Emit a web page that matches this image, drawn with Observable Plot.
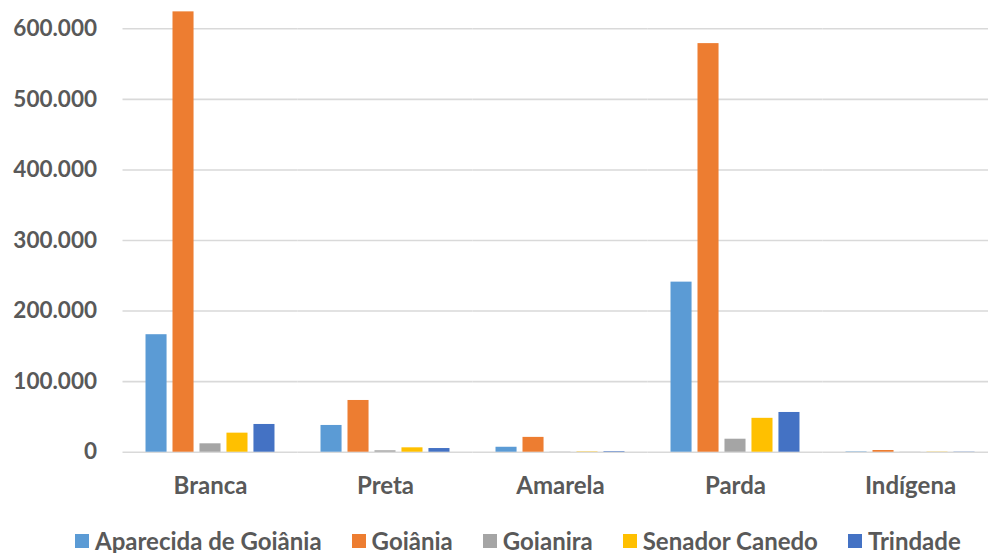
<!DOCTYPE html>
<html>
<head>
<meta charset="utf-8">
<script src="https://cdn.jsdelivr.net/npm/d3@7"></script>
<script src="https://cdn.jsdelivr.net/npm/@observablehq/plot@0.6"></script>
<style>
  html, body { margin: 0; padding: 0; background: #fff; overflow: hidden; }
  #chart { width: 988px; }
  .legend { display: flex; justify-content: flex-start; align-items: center; height: 33px; box-sizing: border-box; padding-top: 8px;
    font-family: Lato, "Open Sans", sans-serif; font-weight: 700; font-size: 24px; line-height: 24px; color: #595959; padding-left: 75px; white-space: nowrap; }
  .legend .item { display: flex; align-items: center; margin-right: 30px; }
  .legend .sw { width: 14px; height: 14px; margin-right: 6px; flex: none; }
</style>
</head>
<body>
<div id="chart"></div>
<script>
const categories = ["Branca", "Preta", "Amarela", "Parda", "Indígena"];
const seriesNames = ["Aparecida de Goiânia", "Goiânia", "Goianira", "Senador Canedo", "Trindade"];
const seriesColors = ["#5B9BD5", "#ED7D31", "#A5A5A5", "#FFC000", "#4472C4"];
// values per series, in the order of categories
const aparecida = [166500, 37900, 7000, 241000, 500];
const goiania = [624000, 73300, 21000, 579000, 2400];
const goianira = [11900, 2000, 300, 18400, 200];
const senadorCanedo = [27000, 6200, 500, 48000, 300];
const trindade = [39300, 5200, 800, 56300, 300];
const yTicks = [0, 100000, 200000, 300000, 400000, 500000, 600000];

const seriesValues = [aparecida, goiania, goianira, senadorCanedo, trindade];
const data = [];
categories.forEach((c, i) => {
  seriesNames.forEach((s, j) => data.push({category: c, series: s, value: seriesValues[j][i]}));
});

const fmt = d3.formatLocale({decimal: ",", thousands: ".", grouping: [3], currency: ["R$", ""]}).format(",d");

const chart = Plot.plot({
  width: 988,
  height: 520,
  marginLeft: 122,
  marginRight: 0,
  marginTop: 0,
  marginBottom: 68,
  style: {fontFamily: "Lato, 'Open Sans', sans-serif", fontWeight: 700, color: "#595959", background: "#fff"},
  fx: {domain: categories, range: [122.5, 997.5], paddingInner: 0.263, paddingOuter: 0.1315, round: false, label: null},
  x: {domain: seriesNames, paddingInner: 0.22, paddingOuter: 0, round: false, axis: null},
  y: {domain: [0, 600000], range: [451.7, 28.3], axis: null},
  color: {domain: seriesNames, range: seriesColors},
  marks: [
    Plot.ruleY(yTicks, {y: d => d, stroke: "#d9d9d9", strokeWidth: 1.6, insetLeft: -23, insetRight: -23}),
    Plot.barY(data, {fx: "category", x: "series", y: "value", fill: "series"}),
    Plot.axisY(yTicks, {anchor: "left", tickSize: 0, tickPadding: 49, tickFormat: fmt, fontSize: 22.5, fill: "#595959", fontWeight: 700, label: null}),
    Plot.axisFx({anchor: "bottom", tickSize: 0, tickPadding: 24, fontSize: 24, fill: "#595959", fontWeight: 700, label: null})
  ]
});
document.getElementById("chart").appendChild(chart);

const legend = document.createElement("div");
legend.className = "legend";
seriesNames.forEach((s, i) => {
  const item = document.createElement("div");
  item.className = "item";
  const sw = document.createElement("span");
  sw.className = "sw";
  sw.style.background = seriesColors[i];
  const t = document.createElement("span");
  t.textContent = s;
  item.appendChild(sw);
  item.appendChild(t);
  legend.appendChild(item);
});
document.getElementById("chart").appendChild(legend);
</script>
</body>
</html>
